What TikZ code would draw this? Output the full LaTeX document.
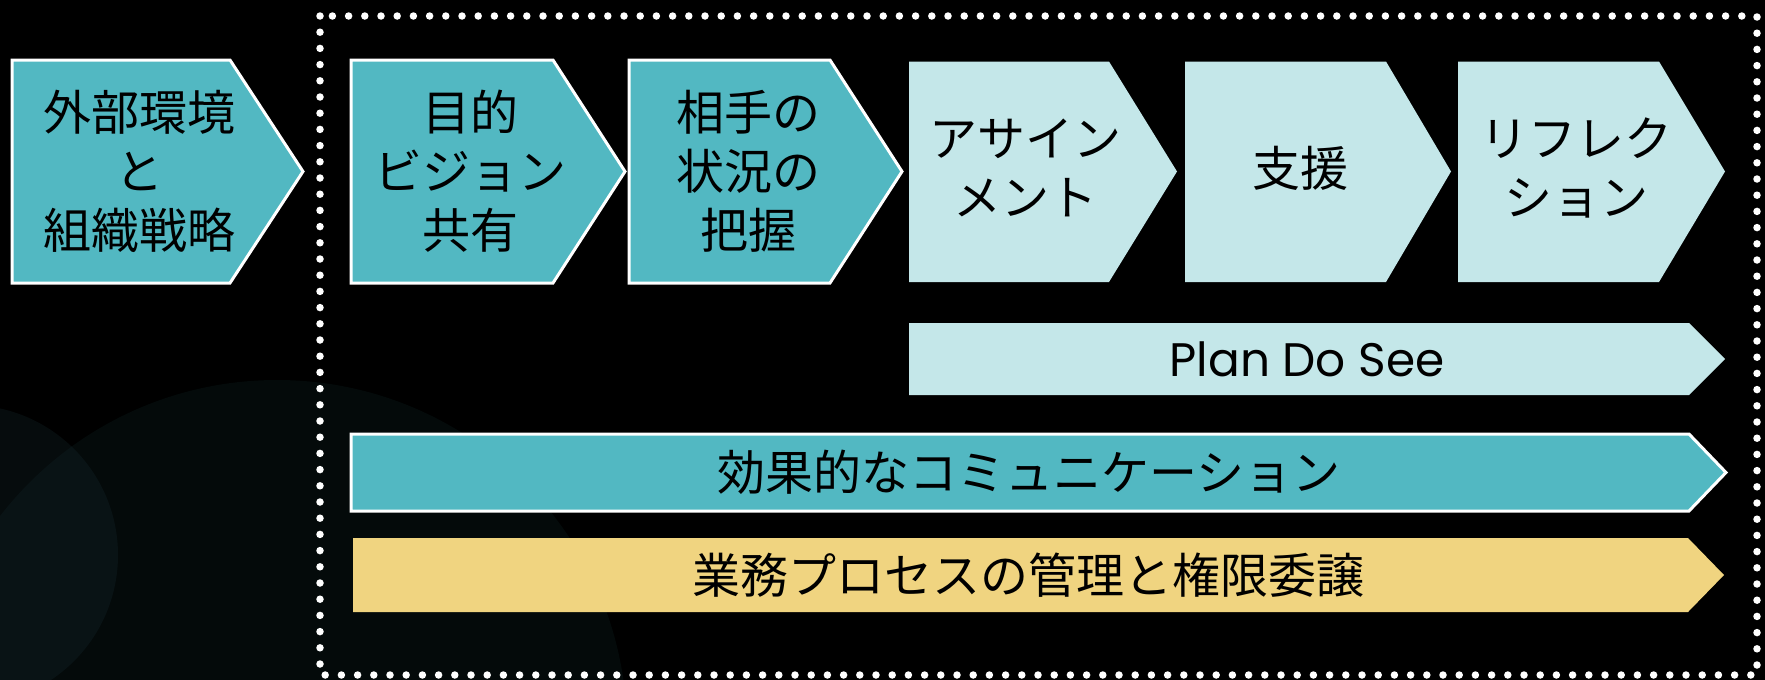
\documentclass[tikz,border=0pt]{standalone}
\usepackage{fontspec}
\setmainfont{Noto Sans CJK JP}
\newfontfamily\latfont{Poppins}
\definecolor{teal1}{HTML}{52B8C2}
\definecolor{light1}{HTML}{C4E7E9}
\definecolor{yellow1}{HTML}{F0D480}
\definecolor{bgA}{HTML}{040A0A}
\definecolor{bgB}{HTML}{060C0D}
\definecolor{bgC}{HTML}{091315}
\tikzset{
  darkchev/.style={fill=teal1, draw=white, line width=3pt, line join=miter},
  lightchev/.style={fill=light1, draw=none},
  yellowchev/.style={fill=yellow1, draw=none},
  jtxt/.style={align=center, inner sep=0pt, text=black, font=\fontsize{48}{59}\selectfont},
  bartxt/.style={inner sep=0pt, text=black, font=\fontsize{48}{56}\selectfont},
  dotborder/.style={draw=white, line width=7.5pt, line cap=round, dash pattern=on 0pt off 16.2pt}
}
\begin{document}
\begin{tikzpicture}[x=1pt,y=-1pt]
\useasboundingbox (0,0) rectangle (1765,680);
\fill[black] (0,0) rectangle (1765,680);
% background circles
\begin{scope}
\clip (0,0) rectangle (1765,680);
\fill[bgA] (277,730) circle[radius=350];
\fill[bgB] (-32,555) circle[radius=150];
\begin{scope}
\clip (277,730) circle[radius=350];
\fill[bgC] (-32,555) circle[radius=150];
\end{scope}
\end{scope}
% dotted frame
\draw[dotborder] (320,16) rectangle (1757,675);
% top row chevrons
\draw[darkchev] (12,60) -- (230,60) -- (303,171.5) -- (230,283) -- (12,283) -- cycle;
\draw[darkchev] (351,60) -- (553,60) -- (625,171.5) -- (553,283) -- (351,283) -- cycle;
\draw[darkchev] (629,60) -- (830,60) -- (902,171.5) -- (830,283) -- (629,283) -- cycle;
\fill[lightchev] (909,61.5) -- (1109,61.5) -- (1177,171.5) -- (1109,282) -- (909,282) -- cycle;
\fill[lightchev] (1185,61.5) -- (1386,61.5) -- (1451,171.5) -- (1386,282) -- (1185,282) -- cycle;
\fill[lightchev] (1458,61.5) -- (1659,61.5) -- (1725,171.5) -- (1659,282) -- (1458,282) -- cycle;
% bars
\fill[lightchev] (909,323) -- (1689,323) -- (1725,359) -- (1689,395) -- (909,395) -- cycle;
\draw[darkchev] (351,434) -- (1689,434) -- (1726,472.5) -- (1689,511) -- (351,511) -- cycle;
\fill[yellowchev] (353,538) -- (1688,538) -- (1724,575) -- (1688,612) -- (353,612) -- cycle;
% texts
\node[jtxt] (t1) at (139,171) {外部環境\\と\\組織戦略};
\node[jtxt] (t2) at (470,171) {目的\\ビジョン\\共有};
\node[jtxt] (t3) at (748,171) {相手の\\状況の\\把握};
\node[jtxt] (t4) at (1025,168) {アサイン\\メント};
\node[jtxt] (t5) at (1300,168) {支援};
\node[jtxt] (t6) at (1576,168) {リフレク\\ション};
\node[bartxt, font=\latfont\fontsize{47}{52}\selectfont] (t7) at (1307,359) {Plan Do See};
\node[bartxt] (t8) at (1029,472) {効果的なコミュニケーション};
\node[bartxt] (t9) at (1028,575) {業務プロセスの管理と権限委譲};
\end{tikzpicture}
\end{document}
